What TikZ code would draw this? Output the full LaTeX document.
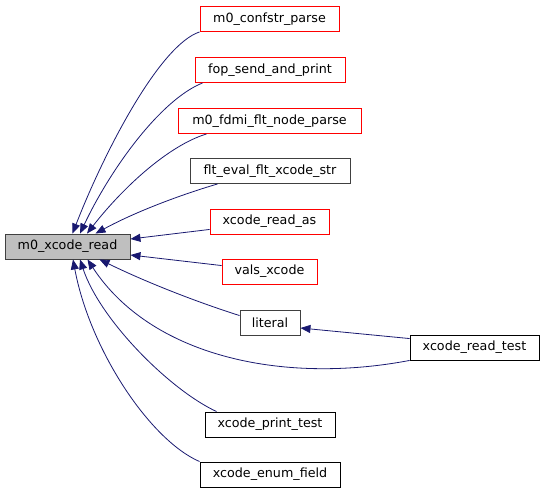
\documentclass[tikz,border=0pt]{standalone}
\usepackage{fontspec}
\setmainfont{DejaVu Sans}
\usetikzlibrary{arrows.meta}
\definecolor{edgeblue}{HTML}{191970}
\definecolor{rootfill}{HTML}{BFBFBF}
\definecolor{darkline}{HTML}{404040}
\tikzset{
  fn/.style={draw=black, line width=0.9pt, minimum height=25pt, inner sep=0pt, font=\fontsize{12.7}{14}\selectfont},
  redfn/.style={fn, draw=red},
  rootfn/.style={fn, draw=darkline, fill=rootfill},
  grayfn/.style={fn, draw=darkline},
  edge/.style={draw=edgeblue, line width=0.8pt, -{Triangle[length=10pt,width=8pt]}},
}
\begin{document}
\begin{tikzpicture}[x=1pt,y=-1pt]
\useasboundingbox (0,0) rectangle (544,493);
\node[rootfn, minimum width=125pt] (m0) at (67.5,246.5) {m0\_xcode\_read};
\node[redfn, minimum width=139pt] (cp) at (269.5,19) {m0\_confstr\_parse};
\node[redfn, minimum width=150pt] (fop) at (270,70) {fop\_send\_and\_print};
\node[redfn, minimum width=183pt] (fdmi) at (269.5,121) {m0\_fdmi\_flt\_node\_parse};
\node[grayfn, minimum width=160pt] (flt) at (270,171) {flt\_eval\_flt\_xcode\_str};
\node[redfn, minimum width=119pt] (ras) at (269.5,221.5) {xcode\_read\_as};
\node[redfn, minimum width=95pt] (vals) at (269.5,271.5) {vals\_xcode};
\node[grayfn, minimum width=60pt] (lit) at (270,322.5) {literal};
\node[fn, minimum width=129pt] (rt) at (474.5,347.5) {xcode\_read\_test};
\node[fn, minimum width=130pt] (pt) at (270,424.5) {xcode\_print\_test};
\node[fn, minimum width=140pt] (ef) at (270,474.5) {xcode\_enum\_field};

\draw[edge] (cp.south west) .. controls (160,45) and (105,150) .. ([xshift=5pt]m0.north);
\draw[edge] ([xshift=8pt]fop.south west) .. controls (160,100) and (110,170) .. ([xshift=12.5pt]m0.north);
\draw[edge] ([xshift=29pt]fdmi.south west) .. controls (170,145) and (125,185) .. ([xshift=19.5pt]m0.north);
\draw[edge] ([xshift=28pt]flt.south west) .. controls (180,195) and (135,212) .. ([xshift=28pt]m0.north);
\draw[edge] ([yshift=5pt]ras.south west) -- ([yshift=7.5pt]m0.east);
\draw[edge] ([yshift=-7pt]vals.north west) -- ([yshift=-8.5pt]m0.east);
\draw[edge] ([yshift=-6pt]lit.north west) .. controls (200,303) and (150,284) .. ([xshift=32pt]m0.south);
\draw[edge] ([yshift=-4pt]rt.north west) -- ([yshift=-5.5pt]lit.east);
\draw[edge] (rt.south west) .. controls (280,385) and (150,355) .. ([xshift=20pt]m0.south);
\draw[edge] ([xshift=12pt]pt.north west) .. controls (170,390) and (100,320) .. ([xshift=12.5pt]m0.south);
\draw[edge] (ef.north west) .. controls (150,440) and (90,350) .. ([xshift=5.5pt]m0.south);
\end{tikzpicture}
\end{document}
